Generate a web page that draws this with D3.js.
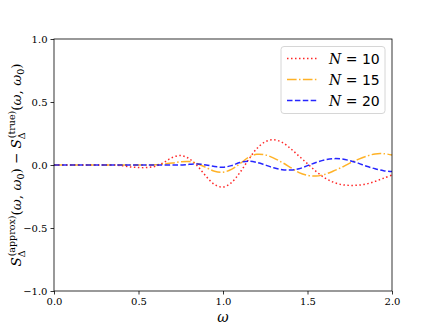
<!DOCTYPE html>
<html>
<head>
<meta charset="utf-8">
<script src="https://cdn.jsdelivr.net/npm/d3@7"></script>
<style>
  body { margin: 0; background: #fff; }
  text { font-family: "DejaVu Serif", "Liberation Serif", serif; }
</style>
</head>
<body>
<script>
var omega = [0.0, 0.05, 0.1, 0.15, 0.2, 0.25, 0.3, 0.35, 0.4, 0.45, 0.5, 0.55, 0.6, 0.65, 0.7, 0.75, 0.8, 0.85, 0.9, 0.95,
  1.0, 1.05, 1.1, 1.15, 1.2, 1.25, 1.3, 1.35, 1.4, 1.45, 1.5, 1.55, 1.6, 1.65, 1.7, 1.75, 1.8, 1.85, 1.9, 1.95, 2.0];

var diffN10 = [0, 0, 0, 0, 0, 0, 0, 0, -0.005, -0.015, -0.02, -0.02, -0.01, 0.02, 0.06, 0.075, 0.05, -0.01, -0.09, -0.155,
  -0.175, -0.14, -0.06, 0.04, 0.13, 0.185, 0.2, 0.18, 0.13, 0.07, 0.01, -0.05, -0.1, -0.135, -0.155, -0.162, -0.16, -0.15, -0.13, -0.105, -0.08];

var diffN15 = [0, 0, 0, 0, 0, 0, 0, 0, 0, 0, 0, 0, 0.002, 0.008, 0.015, 0.025, 0.027, 0.01, -0.02, -0.05,
  -0.057, -0.035, 0.01, 0.06, 0.085, 0.08, 0.055, 0.02, -0.02, -0.06, -0.082, -0.088, -0.075, -0.05, -0.02, 0.015, 0.045, 0.07, 0.088, 0.09, 0.08];

var diffN20 = [0, 0, 0, 0, 0, 0, 0, 0, 0, 0, 0, 0, 0, 0, 0, 0, 0.005, 0.008, 0.0, -0.012,
  -0.018, -0.005, 0.02, 0.03, 0.02, 0.0, -0.022, -0.037, -0.04, -0.03, -0.005, 0.02, 0.04, 0.05, 0.048, 0.035, 0.015, -0.01, -0.03, -0.045, -0.052];

var seriesNames = ["10", "15", "20"];
var xTicks = [0.0, 0.5, 1.0, 1.5, 2.0];
var yTicks = [-1.0, -0.5, 0.0, 0.5, 1.0];

var width = 436, height = 327;
var margin = { left: 54, right: 44, top: 39, bottom: 36 };

var svg = d3.select("body").append("svg")
  .attr("width", width)
  .attr("height", height);

var x = d3.scaleLinear().domain([0, 2]).range([margin.left, width - margin.right]);
var y = d3.scaleLinear().domain([-1, 1]).range([height - margin.bottom, margin.top]);

var styles = [
  { color: "red", dash: "1.5,2.5" },
  { color: "orange", dash: "9.6,2.4,1.5,2.4" },
  { color: "blue", dash: "5.5,2.4" }
];

// axes
var xAxis = svg.append("g")
  .attr("transform", "translate(0," + y(-1) + ")")
  .call(d3.axisBottom(x).tickValues(xTicks).tickSize(3.5).tickPadding(3).tickFormat(d3.format(".1f")));
var yAxis = svg.append("g")
  .attr("transform", "translate(" + x(0) + ",0)")
  .call(d3.axisLeft(y).tickValues(yTicks).tickSize(3.5).tickPadding(3)
    .tickFormat(function (d) { return d < 0 ? "\u2212" + d3.format(".1f")(-d) : d3.format(".1f")(d); }));
[xAxis, yAxis].forEach(function (g) {
  g.select(".domain").remove();
  g.selectAll(".tick line").attr("stroke", "#000").attr("stroke-width", 0.8);
  g.selectAll(".tick text").attr("fill", "#000").style("font-size", "10px")
    .style("font-family", "'DejaVu Serif', serif");
});

// lines
var line = d3.line()
  .curve(d3.curveCatmullRom.alpha(0.5))
  .x(function (d) { return x(d[0]); })
  .y(function (d) { return y(d[1]); });

[diffN10, diffN15, diffN20].forEach(function (vals, i) {
  svg.append("path")
    .datum(omega.map(function (w, k) { return [w, vals[k]]; }))
    .attr("fill", "none")
    .attr("stroke", styles[i].color)
    .attr("stroke-opacity", 0.85)
    .attr("stroke-width", 1.5)
    .attr("stroke-dasharray", styles[i].dash)
    .attr("d", line);
});

// frame
svg.append("rect")
  .attr("x", x(0)).attr("y", y(1))
  .attr("width", x(2) - x(0)).attr("height", y(-1) - y(1))
  .attr("fill", "none").attr("stroke", "#000").attr("stroke-width", 0.8);

// legend
var legend = svg.append("g");
legend.append("rect")
  .attr("x", 281).attr("y", 46.5).attr("width", 104).attr("height", 67)
  .attr("rx", 3).attr("fill", "#fff").attr("fill-opacity", 0.8)
  .attr("stroke", "#ccc").attr("stroke-width", 0.8);
seriesNames.forEach(function (n, i) {
  var ly = 58.5 + i * 21;
  legend.append("line")
    .attr("x1", 287).attr("x2", 317).attr("y1", ly).attr("y2", ly)
    .attr("stroke", styles[i].color).attr("stroke-opacity", 0.85)
    .attr("stroke-width", 1.5).attr("stroke-dasharray", styles[i].dash);
  var t = legend.append("text")
    .attr("x", 329).attr("y", ly + 5)
    .style("font-size", "14px");
  t.append("tspan").style("font-style", "italic").text("N");
  t.append("tspan").text(" = ");
  t.append("tspan").style("font-family", "'DejaVu Sans', sans-serif").text(n);
});

// x label
svg.append("text")
  .attr("x", x(1)).attr("y", 322)
  .attr("text-anchor", "middle")
  .style("font-size", "14px").style("font-style", "italic")
  .text("\u03c9");

// y label
var yl = svg.append("text")
  .attr("transform", "translate(21," + y(0) + ") rotate(-90)")
  .attr("text-anchor", "middle")
  .style("font-size", "13.5px");
yl.append("tspan").style("font-style", "italic").text("S");
yl.append("tspan").attr("dy", 4).style("font-size", "9.5px").text("\u0394");
yl.append("tspan").attr("dy", -10).attr("dx", -6).style("font-size", "9.5px").text("(approx)");
yl.append("tspan").attr("dy", 6).text("(");
yl.append("tspan").style("font-style", "italic").text("\u03c9");
yl.append("tspan").text(", ");
yl.append("tspan").style("font-style", "italic").text("\u03c9");
yl.append("tspan").attr("dy", 3).style("font-size", "9.5px").text("0");
yl.append("tspan").attr("dy", -3).text(") \u2212 ");
yl.append("tspan").style("font-style", "italic").text("S");
yl.append("tspan").attr("dy", 4).style("font-size", "9.5px").text("\u0394");
yl.append("tspan").attr("dy", -10).attr("dx", -6).style("font-size", "9.5px").text("(true)");
yl.append("tspan").attr("dy", 6).text("(");
yl.append("tspan").style("font-style", "italic").text("\u03c9");
yl.append("tspan").text(", ");
yl.append("tspan").style("font-style", "italic").text("\u03c9");
yl.append("tspan").attr("dy", 3).style("font-size", "9.5px").text("0");
yl.append("tspan").attr("dy", -3).text(")");
</script>
</body>
</html>
